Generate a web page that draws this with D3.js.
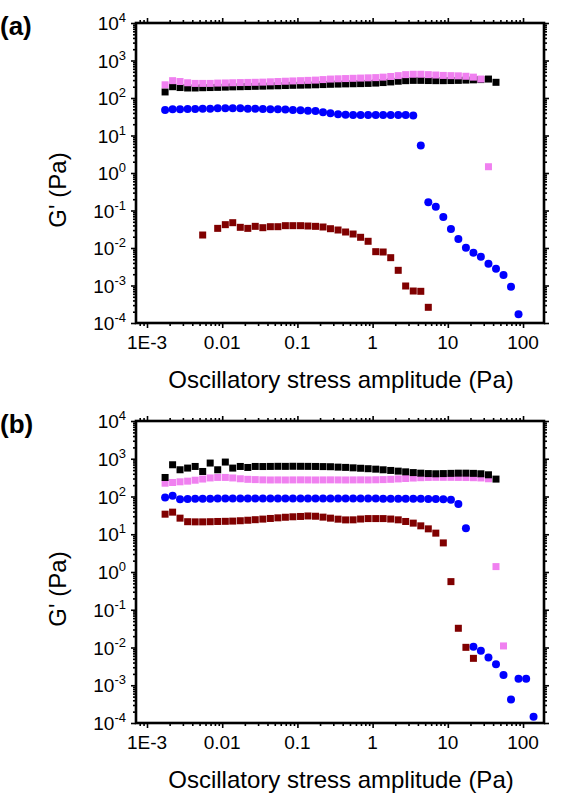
<!DOCTYPE html>
<html>
<head>
<meta charset="utf-8">
<script src="https://cdn.jsdelivr.net/npm/d3@7"></script>
<style>
body { margin: 0; background: #fff; }
text { font-family: "Liberation Sans", Arial, sans-serif; fill: #000; }
</style>
</head>
<body>
<div id="chart"></div>
<script>
// stress amplitude grid (Pa), 10 points per decade
var stress = [0.00174, 0.00219, 0.00275, 0.00347, 0.00437, 0.00550, 0.00692, 0.00871, 0.0110, 0.0138,
              0.0174, 0.0219, 0.0275, 0.0347, 0.0437, 0.0550, 0.0692, 0.0871, 0.110, 0.138,
              0.174, 0.219, 0.275, 0.347, 0.437, 0.550, 0.692, 0.871, 1.10, 1.38,
              1.74, 2.19, 2.75, 3.47, 4.37, 5.50, 6.92, 8.71, 11.0, 13.8,
              17.4, 21.9, 27.5, 34.7, 43.7, 55.0, 69.2, 87.1, 110, 138];

var xTicks = [0.001, 0.01, 0.1, 1, 10, 100];
var xTickLabels = ['1E-3', '0.01', '0.1', '1', '10', '100'];
var yExponents = [-4, -3, -2, -1, 0, 1, 2, 3, 4];

// panel (a) G' values (Pa), aligned with stress
var aBlack = [145, 200, 190, 185, 185, 188, 190, 192, 195, 198,
              200, 202, 205, 207, 210, 212, 215, 218, 220, 222,
              225, 228, 232, 235, 238, 240, 242, 245, 250, 258,
              268, 280, 290, 295, 295, 292, 290, 290, 292, 295,
              300, 305, 310, 320, 262];
var aPink = [225, 290, 275, 255, 245, 245, 245, 250, 252, 255,
             258, 260, 262, 265, 270, 275, 280, 285, 290, 295,
             300, 310, 320, 325, 330, 335, 340, 345, 350, 360,
             375, 395, 420, 430, 430, 420, 410, 400, 395, 390,
             380, 360, 320, 1.47];
var aBlue = [48, 50, 50, 51, 51, 52, 52, 53, 53, 53,
             53, 52, 52, 51, 50, 50, 49, 48, 47, 46,
             45, 42, 39, 37, 36, 35, 35, 35, 35, 35,
             35, 35, 35, 34, 5.4, 0.165, 0.126, 0.067, 0.032, 0.0174,
             0.0102, 0.0075, 0.0058, 0.0038, 0.0028, 0.0019, 0.00093, 0.00017];
var aRed = [null, null, null, null, null, 0.0222, null, 0.0334, 0.0419, 0.0473,
            0.0356, 0.0334, 0.0378, 0.0348, 0.037, 0.037, 0.0394, 0.0394, 0.0394, 0.0386,
            0.0378, 0.0363, 0.0327, 0.0302, 0.0267, 0.0236, 0.0193, 0.0151, 0.00798, 0.00782,
            0.00552, 0.00254, 0.00097, 0.000713, 0.00070, 0.000262];

// panel (b)
var bBlack = [319, 693, 511, 566, 625, 460, 769, 511, 817, 566,
              625, 588, 625, 622, 626, 630, 628, 632, 630, 628,
              625, 620, 615, 600, 590, 575, 560, 545, 530, 510,
              490, 470, 450, 430, 415, 405, 400, 405, 410, 415,
              415, 410, 400, 376, 289];
var bPink = [225, 235, 245, 255, 270, 290, 310, 320, 320, 310,
             295, 285, 280, 276, 274, 275, 274, 275, 276, 275,
             274, 275, 276, 275, 274, 275, 276, 275, 277, 280,
             285, 292, 300, 308, 315, 320, 322, 322, 322, 320,
             318, 315, 310, 295, 1.39, 0.011];
var bBlue = [94, 104, 85, 86, 87, 87, 87, 88, 88, 88,
             88, 88, 88, 88, 88, 88, 88, 88, 88, 88,
             88, 88, 88, 88, 88, 88, 88, 88, 88, 87,
             87, 87, 87, 87, 87, 86, 86, 85, 82, 63,
             14.5, 0.0105, 0.0082, 0.0054, 0.0036, 0.00186, 0.00042, 0.00149, 0.00149, 0.000146];
var bRed = [34, 38.5, 26.7, 21.5, 21.3, 21.3, 21.5, 21.8, 22, 22.3,
            22.8, 23.5, 24.3, 25.2, 26.2, 27.2, 28.2, 29, 29.6, 30.5,
            30, 28.4, 26.7, 25.1, 24, 24.1, 25.3, 26, 26, 26,
            25.3, 24.1, 21.8, 19.7, 16.7, 13.9, 10.7, 5.9, 0.556, 0.0323,
            0.0101, 0.00516];

var width = 561, height = 807;

var svg = d3.select('#chart')
	.append('svg')
	.attr('width', width)
	.attr('height', height);

function toPoints(vals) {
	return vals.map((v, i) => ({ x: stress[i], y: v })).filter(d => d.y != null);
}

function panel(top, bottom, tag, series) {
	var left = 136, right = 544;

	var x = d3.scaleLog().domain([0.000714, 190]).range([left, right]);
	var y = d3.scaleLog().domain([1e-4, 1e4]).range([bottom, top]);

	var g = svg.append('g');

	var minorX = x.ticks().filter(v => xTicks.indexOf(v) < 0);
	var minorY = y.ticks().filter(v => Math.abs(Math.log10(v) - Math.round(Math.log10(v))) > 1e-6);
	var majorY = yExponents.map(e => Math.pow(10, e));

	function ticks(axis, vals, size, tr) {
		var a = g.append('g')
			.attr('transform', tr)
			.call(axis.tickValues(vals).tickSize(size).tickFormat(''));
		a.select('.domain').remove();
		a.selectAll('line').attr('stroke', '#000').attr('stroke-width', 1.6);
	}

	ticks(d3.axisBottom(x), xTicks, 5, 'translate(0,' + bottom + ')');
	ticks(d3.axisBottom(x), minorX, 3, 'translate(0,' + bottom + ')');
	ticks(d3.axisTop(x), xTicks, 5, 'translate(0,' + top + ')');
	ticks(d3.axisTop(x), minorX, 3, 'translate(0,' + top + ')');
	ticks(d3.axisLeft(y), majorY, 5, 'translate(' + left + ',0)');
	ticks(d3.axisLeft(y), minorY, 3, 'translate(' + left + ',0)');
	ticks(d3.axisRight(y), majorY, 5, 'translate(' + right + ',0)');
	ticks(d3.axisRight(y), minorY, 3, 'translate(' + right + ',0)');

	g.append('rect')
		.attr('x', left).attr('y', top)
		.attr('width', right - left).attr('height', bottom - top)
		.attr('fill', 'none')
		.attr('stroke', '#000')
		.attr('stroke-width', 2.6);

	// x tick labels
	g.selectAll('.xl')
		.data(xTicks)
		.enter().append('text')
		.attr('class', 'xl')
		.attr('x', d => x(d))
		.attr('y', bottom + 26)
		.attr('text-anchor', 'middle')
		.style('font-size', '19px')
		.text((d, i) => xTickLabels[i]);

	// y tick labels 10^n
	var yl = g.selectAll('.yl')
		.data(yExponents)
		.enter().append('text')
		.attr('class', 'yl')
		.attr('x', 126)
		.attr('y', d => y(Math.pow(10, d)) + 7)
		.attr('text-anchor', 'end')
		.style('font-size', '19px');
	yl.append('tspan').text('10');
	yl.append('tspan').attr('dy', -8).style('font-size', '13px').text(d => d);

	g.append('text')
		.attr('x', 341).attr('y', bottom + 65)
		.attr('text-anchor', 'middle')
		.style('font-size', '24px')
		.text('Oscillatory stress amplitude (Pa)');

	g.append('text')
		.attr('transform', 'translate(66,' + ((top + bottom) / 2 + 17) + ') rotate(-90)')
		.attr('text-anchor', 'middle')
		.style('font-size', '24px')
		.text("G' (Pa)");

	g.append('text')
		.attr('x', 0).attr('y', top + 12)
		.style('font-size', '26px')
		.style('font-weight', 'bold')
		.text(tag);

	series.forEach(s => {
		var pts = toPoints(s.vals);
		if (s.shape == 'circle') {
			g.selectAll(null)
				.data(pts)
				.enter().append('circle')
				.attr('cx', d => x(d.x))
				.attr('cy', d => y(d.y))
				.attr('r', 4)
				.attr('fill', s.color);
		} else {
			g.selectAll(null)
				.data(pts)
				.enter().append('rect')
				.attr('x', d => x(d.x) - 3.5)
				.attr('y', d => y(d.y) - 3.5)
				.attr('width', 7)
				.attr('height', 7)
				.attr('fill', s.color);
		}
	});
}

panel(23, 323, '(a)', [
	{ vals: aBlack, color: '#000000', shape: 'square' },
	{ vals: aPink, color: '#f080f0', shape: 'square' },
	{ vals: aBlue, color: '#0000ff', shape: 'circle' },
	{ vals: aRed, color: '#800000', shape: 'square' }
]);

panel(421, 723, '(b)', [
	{ vals: bPink, color: '#f080f0', shape: 'square' },
	{ vals: bBlack, color: '#000000', shape: 'square' },
	{ vals: bBlue, color: '#0000ff', shape: 'circle' },
	{ vals: bRed, color: '#800000', shape: 'square' }
]);
</script>
</body>
</html>
